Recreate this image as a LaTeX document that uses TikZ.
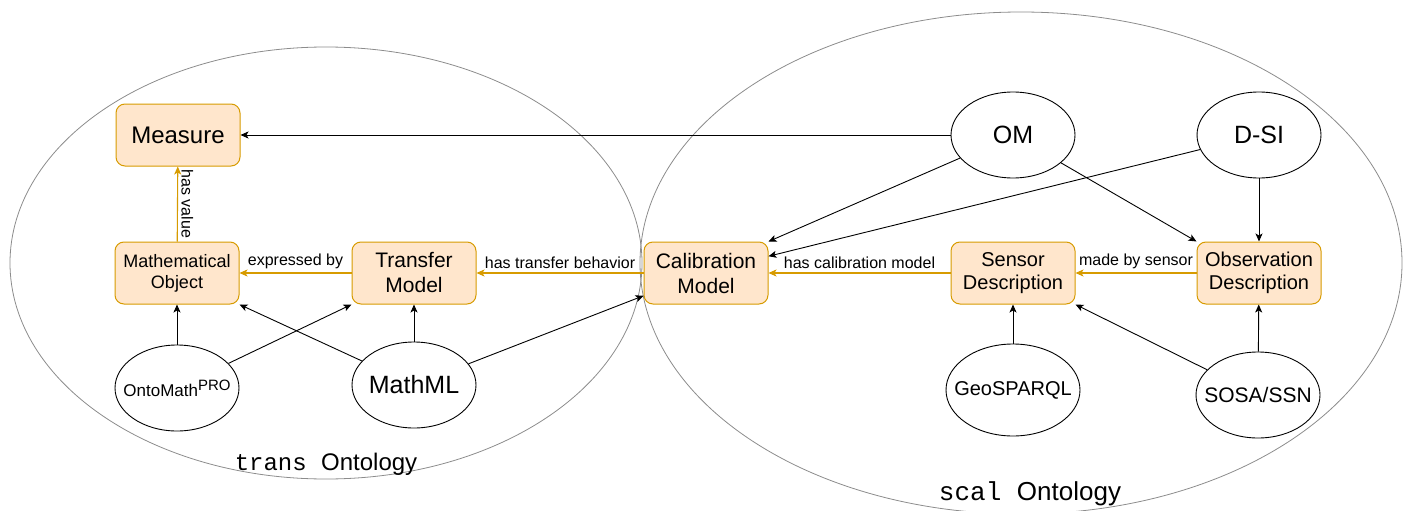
\documentclass[tikz,border=0pt]{standalone}
\usepackage{fontspec}
\setmainfont{Liberation Sans}
\setmonofont{Liberation Mono}
\usetikzlibrary{arrows.meta,shapes.geometric,calc}
\definecolor{Orange}{HTML}{D79B00}
\definecolor{SoftOrange}{HTML}{FFE6CC}
\definecolor{Gray}{HTML}{8C8C8C}
\newcommand{\fsz}[2]{\fontsize{#1}{#2}\selectfont}
\newcommand{\narrow}[1]{\makebox[0pt]{#1}}

\begin{document}
\begin{tikzpicture}[x=1pt,y=-1pt,
  concept/.style={draw=Orange,fill=SoftOrange,line width=1pt,rounded corners=9pt,
    minimum width=124pt,minimum height=62pt,align=center,inner sep=2pt},
  onto/.style={draw,ellipse,line width=0.9pt,minimum width=124pt,minimum height=86pt,inner sep=1pt},
  link/.style={line width=0.9pt,-{Stealth[length=8pt,width=7pt,inset=2pt]}},
  rel/.style={link,line width=1.1pt,draw=Orange},
  lbl/.style={font=\fsz{16}{19},text=black}]
  \useasboundingbox (0,0) rectangle (1408,511);
  % ontology areas
  \draw[Gray,line width=0.8pt] (326,263) ellipse [x radius=316pt,y radius=216pt];
  \draw[Gray,line width=0.8pt] (1021,263) ellipse [x radius=381pt,y radius=251pt];
  % concepts
  \node[concept,font=\fsz{24}{28}] (measure) at (178,135) {Measure};
  \node[concept,font=\fsz{18}{21}] (mobj) at (177,273) {Mathematical\\Object};
  \node[concept,font=\fsz{21}{25}] (transfer) at (414,273) {Transfer\\Model};
  \node[concept,font=\fsz{21}{25}] (calib) at (706,273) {Calibration\\Model};
  \node[concept,font=\fsz{20}{23}] (sensor) at (1013,273) {Sensor\\Description};
  \node[concept,font=\fsz{20}{23}] (obs) at (1259,273) {Observation\\Description};
  % imported ontologies
  \node[onto,font=\fsz{25}{30}] (om) at (1013,135) {\narrow{OM}};
  \node[onto,font=\fsz{25}{30}] (dsi) at (1259,135) {\narrow{D-SI}};
  \node[onto,font=\fsz{17}{20}] (ontomath) at (177,388) {\narrow{OntoMath\raisebox{6pt}{\fsz{15}{18}PRO}}};
  \node[onto,font=\fsz{25}{30}] (mathml) at (414,385) {\narrow{MathML}};
  \node[onto,minimum width=134pt,minimum height=92pt,font=\fsz{20}{24}] (geo) at (1013,390) {\narrow{GeoSPARQL}};
  \node[onto,font=\fsz{21}{25}] (sosa) at (1258,395) {\narrow{SOSA/SSN}};
  % titles
  \node[font=\fsz{24}{28},anchor=base] (transtitle) at (326,470) {\texttt{trans~}Ontology};
  \node[font=\fsz{26}{30},anchor=base] (scaltitle) at (1030,500) {\texttt{scal~}Ontology};
  % imports
  \draw[link] (om) -- (measure);
  \draw[link] (om) -- (calib.north east);
  \draw[link] (dsi) -- (calib.15);
  \draw[link] (om) -- (obs.north west);
  \draw[link] (dsi) -- (obs);
  \draw[link] (ontomath) -- (mobj);
  \draw[link] (ontomath) -- (transfer.south west);
  \draw[link] (mathml) -- (mobj.south east);
  \draw[link] (mathml) -- (transfer);
  \draw[link] (mathml) -- (calib.200);
  \draw[link] (geo) -- (sensor);
  \draw[link] (sosa) -- (sensor.south east);
  \draw[link] (sosa) -- (obs);
  % relations
  \draw[rel] (mobj) -- node[lbl,rotate=-90,anchor=south] {has value} (measure);
  \draw[rel] (transfer) -- node[lbl,above] {expressed by} (mobj);
  \draw[rel] (calib) -- node[lbl,above] {has transfer behavior} (transfer);
  \draw[rel] (sensor) -- node[lbl,above] {has calibration model} (calib);
  \draw[rel] (obs) -- node[lbl,above] {made by sensor} (sensor);
\end{tikzpicture}
\end{document}
